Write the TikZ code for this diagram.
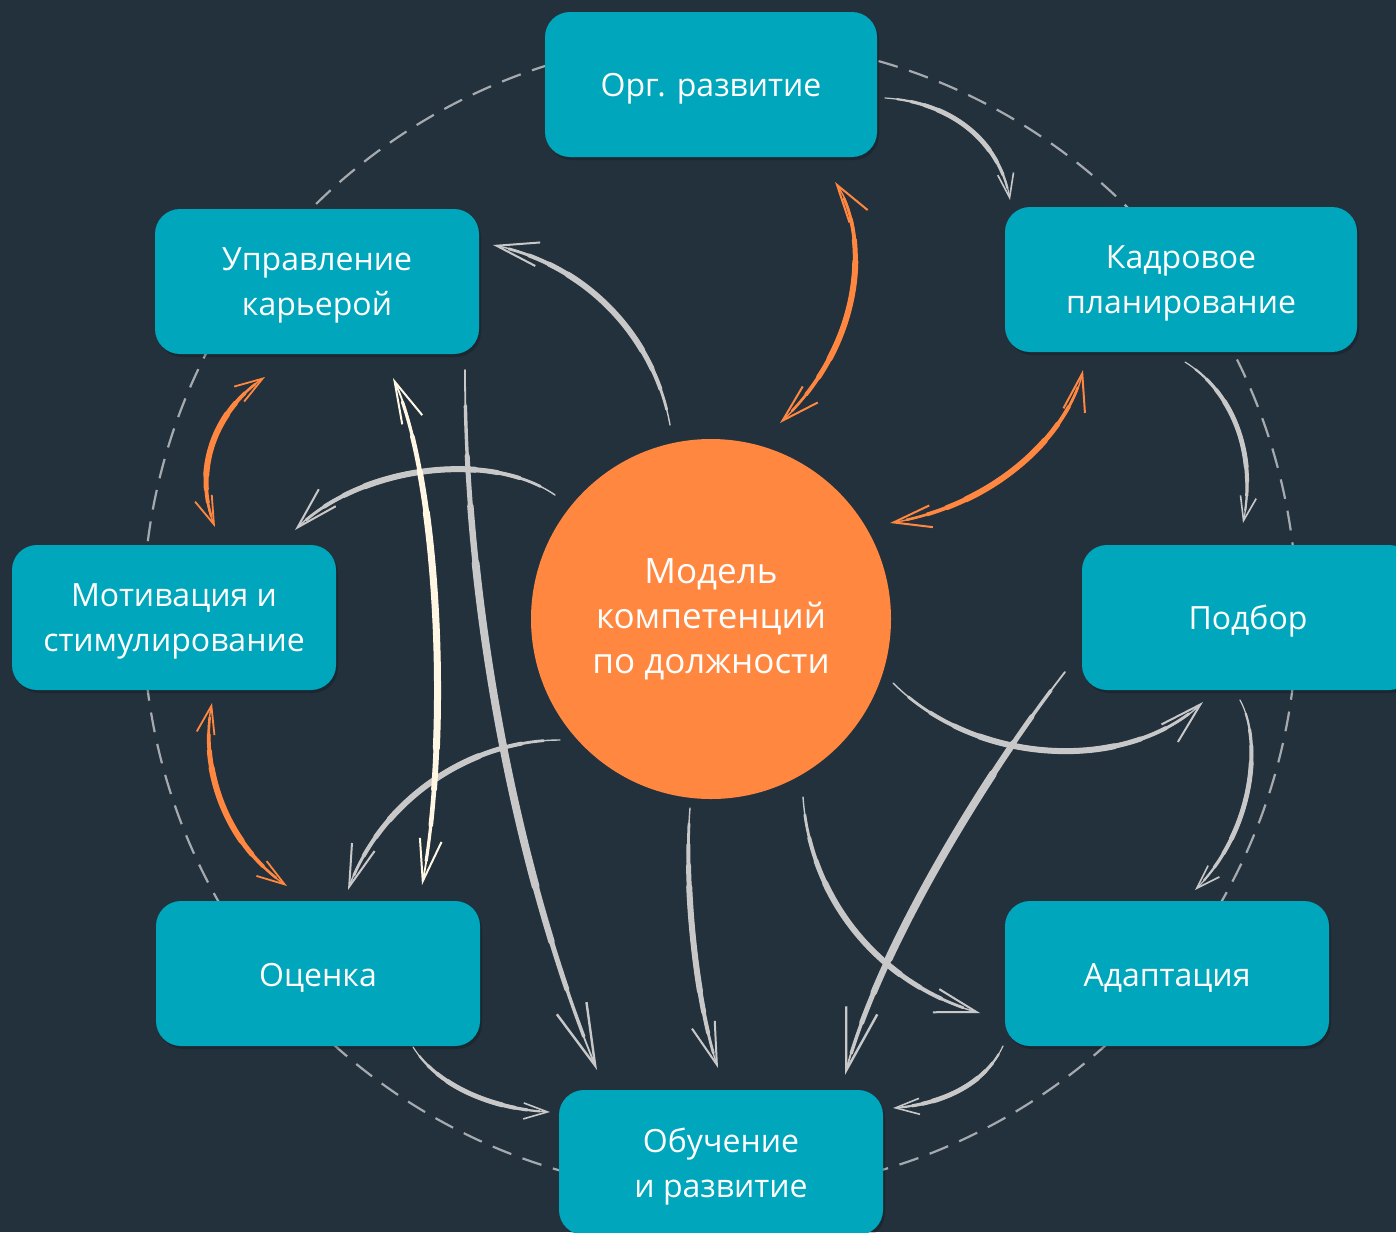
\documentclass[tikz,border=0pt]{standalone}
\usepackage{fontspec}
\setmainfont{Open Sans}
\usetikzlibrary{arrows.meta,shadows}
\definecolor{bg}{RGB}{35,49,61}
\definecolor{boxcol}{RGB}{0,166,187}
\definecolor{orng}{RGB}{255,135,64}
\definecolor{arrgray}{RGB}{200,200,200}
\definecolor{cream}{RGB}{255,246,228}
\definecolor{dashgray}{RGB}{165,170,175}
\tikzset{
  box/.style={rectangle, rounded corners=12.5pt, fill=boxcol, minimum height=72.5pt,
    inner sep=0pt,
    drop shadow={shadow xshift=1pt, shadow yshift=-1.5pt, opacity=0.18, fill=black},
    label={[text=white, align=center, font=\fontsize{16}{22.5}\selectfont, yshift=-2pt]center:#1}},
  hub/.style={circle, fill=orng, minimum size=180pt, inner sep=0pt, text=white,
    align=center, font=\fontsize{17.5}{22.5}\selectfont},
  tp/.style n args={3}{postaction={draw, arrows=-, line cap=round, line width=#1,
    /utils/exec={\pgfmathsetmacro\tpOn{#2*#3*0.5}\pgfmathsetmacro\tpPh{3000+\tpOn-#2*(1-#3)*0.25}},
    dash pattern=on \tpOn pt off 3000pt, dash phase=\tpPh pt}},
  hring/.style={-{Straight Barb[length=12pt,width=8pt,line width=0.8pt]}},
  hctr/.style={-{Straight Barb[length=21pt,width=12pt,line width=1pt]}},
  hlng/.style={-{Straight Barb[length=31pt,width=16pt,line width=1.2pt]}},
  hcrm/.style={{Straight Barb[length=21pt,width=11pt,line width=1pt]}-{Straight Barb[length=21pt,width=11pt,line width=1pt]}},
  horgA/.style={{Straight Barb[length=19pt,width=11pt,line width=1pt]}-{Straight Barb[length=19pt,width=11pt,line width=1pt]}},
  horgB/.style={{Straight Barb[length=14pt,width=9pt,line width=0.9pt]}-{Straight Barb[length=14pt,width=9pt,line width=0.9pt]}},
  ring/.style={draw=arrgray, line width=0.6pt, line cap=round,
    tp={1.1pt}{#1}{0.86}, tp={1.6pt}{#1}{0.7}, tp={2pt}{#1}{0.54}, tp={2.4pt}{#1}{0.38}},
  ctr/.style={draw=arrgray, line width=0.7pt, line cap=round,
    tp={1.4pt}{#1}{0.88}, tp={2pt}{#1}{0.72}, tp={2.5pt}{#1}{0.56}, tp={3pt}{#1}{0.4}},
  lng/.style={draw=arrgray, line width=0.9pt, line cap=round,
    tp={1.7pt}{#1}{0.9}, tp={2.5pt}{#1}{0.76}, tp={3.2pt}{#1}{0.62}, tp={3.9pt}{#1}{0.46}},
  crm/.style={draw=cream, line width=0.9pt, line cap=round,
    tp={1.6pt}{#1}{0.9}, tp={2.3pt}{#1}{0.76}, tp={2.9pt}{#1}{0.62}, tp={3.5pt}{#1}{0.46}},
  orw/.style={draw=orng, line width=0.7pt, line cap=round,
    tp={1.3pt}{#1}{0.86}, tp={1.9pt}{#1}{0.7}, tp={2.5pt}{#1}{0.54}, tp={3pt}{#1}{0.38}},
}
\begin{document}
\begin{tikzpicture}[x=0.5pt,y=-0.5pt]
\fill[bg] (0,0) rectangle (1396,1232);
\useasboundingbox (0,0) rectangle (1396,1232);
\draw[dashgray, line width=1.1pt, dash pattern=on 10pt off 6pt] (720,616) circle[radius=577];

\node[box={Орг. развитие}, minimum width=166pt] (orgb) at (711,84.5) {};
\node[box={Кадровое\\планирование}, minimum width=176pt] (kadr) at (1181,279.5) {};
\node[box={Подбор}, minimum width=166pt] (podbor) at (1248,617.5) {};
\node[box={Адаптация}, minimum width=162pt] (adapt) at (1167,973.5) {};
\node[box={Обучение\\и развитие}, minimum width=162pt] (obuch) at (721,1162.5) {};
\node[box={Оценка}, minimum width=162pt] (ocenka) at (318,973.5) {};
\node[box={Мотивация и\\стимулирование}, minimum width=162pt] (motiv) at (174,617.5) {};
\node[box={Управление\\карьерой}, minimum width=162pt] (upr) at (317,281.5) {};
\node[hub] (hub) at (711,619) {Модель\\компетенций\\по должности};

% endpoints
\coordinate (a1s) at (885,98);   \coordinate (a1e) at (1010,200);
\coordinate (a2s) at (1185,362); \coordinate (a2e) at (1243,523);
\coordinate (a3s) at (1240,700); \coordinate (a3e) at (1195,890);
\coordinate (a4s) at (1003,1046);\coordinate (a4e) at (893,1108);
\coordinate (a5s) at (413,1047); \coordinate (a5e) at (550,1112);
\coordinate (a6s) at (670,425);  \coordinate (a6e) at (493,245);
\coordinate (a7s) at (555,495);  \coordinate (a7e) at (295,530);
\coordinate (a8s) at (560,740);  \coordinate (a8e) at (348,890);
\coordinate (a9s) at (690,808);  \coordinate (a9e) at (718,1068);
\coordinate (a10s) at (803,797); \coordinate (a10e) at (980,1013);
\coordinate (a11s) at (893,683); \coordinate (a11e) at (1203,702);
\coordinate (a12s) at (1065,672);\coordinate (a12e) at (845,1075);
\coordinate (a13s) at (465,370); \coordinate (a13e) at (597,1070);
\coordinate (a14s) at (393,378); \coordinate (a14e) at (422,885);
\coordinate (b1s) at (835,182);  \coordinate (b1e) at (780,423);
\coordinate (b2s) at (1083,370); \coordinate (b2e) at (890,523);
\coordinate (b3s) at (265,377);  \coordinate (b3e) at (215,527);
\coordinate (b4s) at (212,703);  \coordinate (b4e) at (287,886);

% ring arrows
\draw[ring=175, hring] (a1s) .. controls (950,102) and (1000,140) .. (a1e);
\draw[ring=182, hring] (a2s) .. controls (1230,390) and (1258,450) .. (a2e);
\draw[ring=208, hring] (a3s) .. controls (1262,740) and (1255,830) .. (a3e);
\draw[ring=133, hring] (a4s) .. controls (985,1085) and (940,1105) .. (a4e);
\draw[ring=158, hring] (a5s) .. controls (440,1090) and (500,1110) .. (a5e);

% from center
\draw[ctr=268, hctr] (a6s) .. controls (655,340) and (590,265) .. (a6e);
\draw[ctr=282, hctr] (a7s) .. controls (490,450) and (360,465) .. (a7e);
\draw[ctr=277, hctr] (a8s) .. controls (470,740) and (380,800) .. (a8e);
\draw[ctr=263, hctr] (a9s) .. controls (684,880) and (695,1000) .. (a9e);
\draw[ctr=298, hctr] (a10s) .. controls (810,900) and (880,985) .. (a10e);
\draw[ctr=342, hctr] (a11s) .. controls (975,765) and (1125,775) .. (a11e);

% long arrows
\draw[lng=462, hlng] (a12s) .. controls (1000,755) and (880,940) .. (a12e);
\draw[lng=716, hlng] (a13s) .. controls (465,600) and (515,870) .. (a13e);
\draw[crm=514, hcrm] (a14s) .. controls (440,480) and (450,740) .. (a14e);

% orange double arrows
\draw[orw=268, horgA] (b1s) .. controls (868,230) and (868,340) .. (b1e);
\draw[orw=261, horgA] (b2s) .. controls (1070,430) and (1000,505) .. (b2e);
\draw[orw=172, horgB] (b3s) .. controls (215,410) and (192,470) .. (b3e);
\draw[orw=210, horgB] (b4s) .. controls (200,760) and (220,840) .. (b4e);
\end{tikzpicture}
\end{document}
